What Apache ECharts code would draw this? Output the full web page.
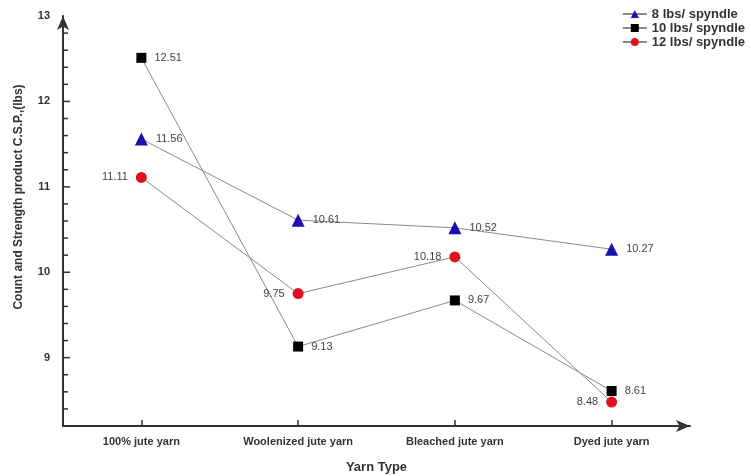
<!DOCTYPE html>
<html>
<head>
<meta charset="utf-8">
<script src="https://cdn.jsdelivr.net/npm/echarts@6/dist/echarts.min.js"></script>
<style>
  html, body { margin: 0; padding: 0; background: #fff; }
  #chart { width: 751px; height: 476px; }
</style>
</head>
<body>
<div id="chart"></div>
<script>
// Yarn types along the x axis
const categories = ['100% jute yarn', 'Woolenized jute yarn', 'Bleached jute yarn', 'Dyed jute yarn'];

// Count-strength product per spindle load
const lbs8 = [11.56, 10.61, 10.52, 10.27];
const lbs10 = [12.51, 9.13, 9.67, 8.61];
const lbs12 = [11.11, 9.75, 10.18, 8.48];

// Y-axis tick labels
const yTicks = [9, 10, 11, 12, 13];

const FONT = 'Arial, "Liberation Sans", Helvetica, sans-serif';
const chart = echarts.init(document.getElementById('chart'));

const labelFont = { fontFamily: FONT, fontSize: 11, color: '#444' };
const lineStyle = { color: '#8a8a8a', width: 1 };

function series(name, data, symbol, size, color, pos) {
  return {
    name: name,
    type: 'line',
    data: data,
    symbol: symbol,
    symbolSize: size,
    lineStyle: lineStyle,
    itemStyle: { color: color },
    label: Object.assign({
      show: true,
      position: pos,
      distance: 8,
      formatter: p => p.value.toFixed(2)
    }, labelFont),
    z: 3
  };
}

chart.setOption({
  animation: false,
  backgroundColor: '#fff',
  grid: { left: 63, right: 61, top: 16, bottom: 50, outerBoundsMode: 'none', containLabel: false },
  legend: {
    orient: 'vertical',
    right: 1,
    top: 2,
    itemGap: 0,
    itemWidth: 24,
    itemHeight: 10,
    textStyle: { fontFamily: FONT, fontSize: 13, lineHeight: 14, fontWeight: 'bold', color: '#333' },
    data: ['8 lbs/ spyndle', '10 lbs/ spyndle', '12 lbs/ spyndle']
  },
  graphic: [{
    type: 'text',
    x: 19,
    y: 197,
    rotation: Math.PI / 2,
    style: {
      text: 'Count and Strength product C.S.P.,(lbs)',
      font: 'bold 12px ' + FONT,
      fill: '#333',
      textAlign: 'center',
      textVerticalAlign: 'middle'
    }
  }],
  xAxis: {
    type: 'category',
    data: categories,
    boundaryGap: true,
    name: 'Yarn Type',
    nameLocation: 'middle',
    nameGap: 35,
    nameTextStyle: { fontFamily: FONT, fontSize: 13, fontWeight: 'bold', color: '#333' },
    axisLine: { lineStyle: { color: '#333', width: 2 }, symbol: ['none', 'arrow'], symbolSize: [9, 14], symbolOffset: [0, 0] },
    axisTick: { show: true, inside: true, alignWithLabel: true, interval: 0, length: 6, lineStyle: { color: '#333', width: 1.5 } },
    axisLabel: { fontFamily: FONT, fontSize: 11, fontWeight: 'bold', color: '#333', margin: 10, interval: 0 },
    splitLine: { show: false }
  },
  yAxis: {
    type: 'value',
    min: 8.2,
    max: 13,
    interval: 0.2,
    axisLine: { show: true, lineStyle: { color: '#333', width: 2 }, symbol: ['none', 'arrow'], symbolSize: [9, 14], symbolOffset: [0, 0] },
    axisTick: { show: false },
    minorTick: { show: false },
    axisLabel: {
      fontFamily: FONT, fontSize: 11, fontWeight: 'bold', color: '#333', margin: 13,
      formatter: v => {
        const r = Math.round(v);
        return (Math.abs(v - r) < 1e-6 && yTicks.includes(r)) ? String(r) : '';
      }
    },
    splitLine: { show: false }
  },
  series: [
    series('8 lbs/ spyndle', lbs8, 'triangle', 13, '#1a10b0', 'right'),
    series('10 lbs/ spyndle', lbs10, 'rect', 10, '#000000', 'right'),
    series('12 lbs/ spyndle', lbs12, 'circle', 11, '#e0101e', 'left'),
    // Inward ticks on the y axis: longer at integers, shorter between
    {
      type: 'custom',
      silent: true,
      legendHoverLink: false,
      data: (function () {
        const out = [];
        for (let i = 0; i <= 23; i++) out.push(+(8.2 + i * 0.2).toFixed(1));
        return out;
      })(),
      renderItem: function (params, api) {
        const v = api.value(0);
        const pt = api.coord([0, v]);
        const x0 = params.coordSys.x;
        const major = Math.abs(v - Math.round(v)) < 1e-6;
        return {
          type: 'line',
          shape: { x1: x0, y1: pt[1], x2: x0 + (major ? 7 : 5), y2: pt[1] },
          style: { stroke: '#333', lineWidth: 1.5 }
        };
      },
      encode: { y: 0 },
      z: 1
    }
  ]
});
</script>
</body>
</html>
